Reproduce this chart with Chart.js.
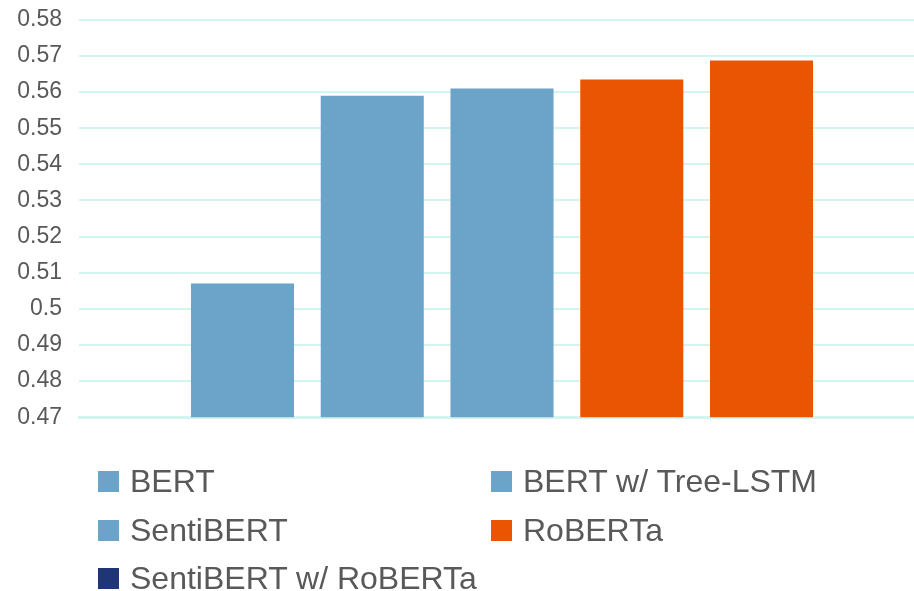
<!DOCTYPE html>
<html>
<head>
<meta charset="utf-8">
<script src="https://cdn.jsdelivr.net/npm/chart.js@4/dist/chart.umd.min.js"></script>
<style>
  html, body { margin: 0; padding: 0; background: #fff; }
  #wrap { position: relative; width: 914px; height: 591px; overflow: hidden; }
  #plot { position: absolute; left: 0; top: -11px; width: 914px; height: 459px; }
  #legend { position: absolute; left: 0; top: 0; width: 914px; height: 591px; pointer-events: none; }
  .item { position: absolute; display: flex; align-items: center; height: 21px;
          font-family: "Liberation Sans", Arial, sans-serif; font-size: 32px; color: #595959; white-space: nowrap; }
  .swatch { width: 21px; height: 21px; margin-right: 11px; flex: none; }
</style>
</head>
<body>
<div id="wrap">
  <div id="plot"><canvas id="chart"></canvas></div>
  <div id="legend"></div>
</div>
<script>
// Models compared and their scores
const categories = ['BERT', 'BERT w/ Tree-LSTM', 'SentiBERT', 'RoBERTa', 'SentiBERT w/ RoBERTa'];
const scores = [0.507, 0.559, 0.561, 0.5635, 0.5687];
const barColors = ['#6BA4C8', '#6BA4C8', '#6BA4C8', '#EA5504', '#EA5504'];
const legendColors = ['#6BA4C8', '#6BA4C8', '#6BA4C8', '#EA5504', '#1F3578'];
const yTicks = [0.47, 0.48, 0.49, 0.5, 0.51, 0.52, 0.53, 0.54, 0.55, 0.56, 0.57, 0.58];

const FONT = '"Liberation Sans", Arial, sans-serif';
const GRID = '#D4F5EF';

new Chart(document.getElementById('chart'), {
  type: 'bar',
  data: {
    datasets: [{
      label: 'Score',
      data: categories.map((c, i) => ({ x: i + 1, y: scores[i] })),
      backgroundColor: barColors,
      borderWidth: 0,
      categoryPercentage: 1,
      barPercentage: 0.794
    }]
  },
  options: {
    responsive: true,
    maintainAspectRatio: false,
    animation: false,
    layout: { padding: { top: 8, right: 0, bottom: 16, left: 0 } },
    plugins: { legend: { display: false }, tooltip: { enabled: false } },
    scales: {
      x: {
        type: 'linear',
        offset: false,
        min: -0.26,
        max: 6.175,
        grid: { display: false, drawTicks: false },
        border: { display: true, color: GRID, width: 3 },
        ticks: { display: false }
      },
      y: {
        min: yTicks[0],
        max: yTicks[yTicks.length - 1],
        afterBuildTicks: (scale) => { scale.ticks = yTicks.map(v => ({ value: v })); },
        afterFit: (scale) => { scale.width = 79; },
        grid: { color: GRID, lineWidth: 2, drawTicks: false },
        border: { display: false },
        ticks: {
          padding: 17,
          color: '#595959',
          font: { family: FONT, size: 23 },
          callback: (v) => String(+Number(v).toFixed(2))
        }
      }
    }
  }
});

// Two-column legend under the plot
const legend = document.getElementById('legend');
categories.forEach((name, i) => {
  const col = i % 2, row = Math.floor(i / 2);
  const el = document.createElement('div');
  el.className = 'item';
  el.style.left = (col === 0 ? 98 : 491) + 'px';
  el.style.top = (471 + row * 48.5) + 'px';
  const sw = document.createElement('span');
  sw.className = 'swatch';
  sw.style.background = legendColors[i];
  const tx = document.createElement('span');
  tx.textContent = name;
  el.appendChild(sw);
  el.appendChild(tx);
  legend.appendChild(el);
});
</script>
</body>
</html>
